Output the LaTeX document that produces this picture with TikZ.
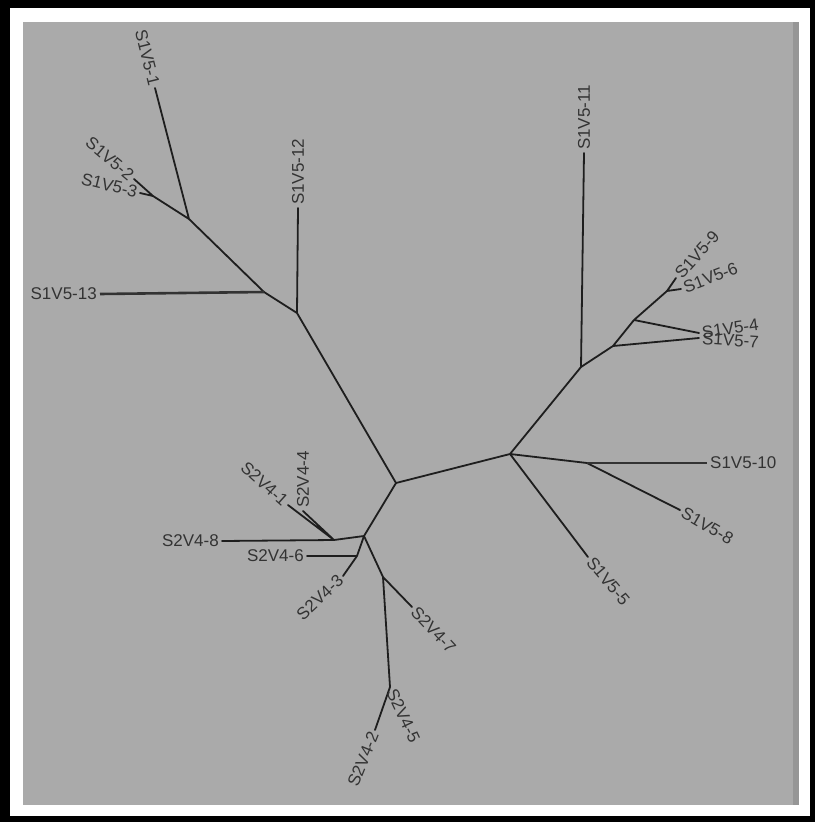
\documentclass[tikz,border=0pt]{standalone}
\usepackage{fontspec}
\setmainfont{Liberation Sans}
\definecolor{bggray}{HTML}{AAAAAA}
\definecolor{edgec}{HTML}{1E1E1E}
\definecolor{labc}{HTML}{333333}
\begin{document}
\begin{tikzpicture}[x=1pt,y=-1pt,
  edge/.style={draw=edgec,line width=1.8pt,line cap=round},
  thickedge/.style={draw=edgec!85!bggray,line width=2.6pt},
  lab/.style={text=labc,font=\fontsize{17}{17}\selectfont,inner sep=3pt},
  labR/.style={lab,anchor=west},
  labL/.style={lab,anchor=east}]
\useasboundingbox (0,0) rectangle (815,822);
\fill[black] (0,0) rectangle (815,822);
\fill[white] (10,8) rectangle (810,816);
\fill[bggray] (23,22) rectangle (798,805);
\fill[bggray!88!black] (793,22) rectangle (799,805);
% internal nodes
\coordinate (A) at (396,483);
\coordinate (B) at (297,313);
\coordinate (C) at (264,292);
\coordinate (D) at (189,219);
\coordinate (E) at (153,196);
\coordinate (F) at (510,454);
\coordinate (G) at (581,367);
\coordinate (H) at (613,346);
\coordinate (I) at (634,320);
\coordinate (J) at (667,291);
\coordinate (K) at (587,463);
\coordinate (L) at (364,536);
\coordinate (M) at (334,540);
\coordinate (P) at (357,556);
\coordinate (N) at (383,577);
\coordinate (O) at (390,687);
% tips
\coordinate (t1) at (155,88);
\coordinate (t2) at (134,179);
\coordinate (t3) at (140,193);
\coordinate (t13) at (100,294);
\coordinate (t12) at (298,208);
\coordinate (t11) at (584,153);
\coordinate (t9) at (676,278);
\coordinate (t6) at (681,289);
\coordinate (t4) at (699,333);
\coordinate (t7) at (699,338);
\coordinate (t10) at (707,463);
\coordinate (t8) at (680,510);
\coordinate (t5) at (588,557);
\coordinate (s1) at (288,505);
\coordinate (s4) at (303,511);
\coordinate (s8) at (222,541);
\coordinate (s6) at (307,556);
\coordinate (s3) at (343,576);
\coordinate (s7) at (412,607);
\coordinate (s2) at (375,730);
% edges
\draw[edge] (A) -- (B) (B) -- (C) (C) -- (D) (D) -- (E)
  (D) -- (t1) (E) -- (t2) (E) -- (t3) (B) -- (t12);
\draw[thickedge] (C) -- (t13);
\draw[edge] (A) -- (F) (F) -- (G) (G) -- (H) (H) -- (I) (I) -- (J)
  (G) -- (t11) (J) -- (t9) (J) -- (t6) (I) -- (t4) (H) -- (t7)
  (F) -- (K) (K) -- (t8) (F) -- (t5);
\draw[thickedge] (K) -- (t10);
\draw[edge] (A) -- (L) (L) -- (M) (L) -- (P) (L) -- (N)
  (M) -- (s1) (M) -- (s4) (M) -- (s8) (P) -- (s6) (P) -- (s3)
  (N) -- (s7) (N) -- (O) (O) -- (s2);
% labels
\node[labL,rotate=-76] (l1) at (t1) {S1V5-1};
\node[labL,rotate=-40] (l2) at (t2) {S1V5-2};
\node[labL,rotate=-14] (l3) at (t3) {S1V5-3};
\node[labL] (l13) at (t13) {S1V5-13};
\node[labR,rotate=90] (l12) at (t12) {S1V5-12};
\node[labR,rotate=90] (l11) at (t11) {S1V5-11};
\node[labR,rotate=48] (l9) at (t9) {S1V5-9};
\node[labR,rotate=21] (l6) at (t6) {S1V5-6};
\node[labR,rotate=8] (l4) at (t4) {S1V5-4};
\node[labR,rotate=-4] (l7) at (t7) {S1V5-7};
\node[labR] (l10) at (t10) {S1V5-10};
\node[labR,rotate=-30] (l8) at (t8) {S1V5-8};
\node[labR,rotate=-50] (l5) at (t5) {S1V5-5};
\node[labL,rotate=-42] (m1) at (s1) {S2V4-1};
\node[labR,rotate=90] (m4) at (s4) {S2V4-4};
\node[labL] (m8) at (s8) {S2V4-8};
\node[labL] (m6) at (s6) {S2V4-6};
\node[labL,rotate=43] (m3) at (s3) {S2V4-3};
\node[labR,rotate=-47] (m7) at (s7) {S2V4-7};
\node[labR,rotate=-65] (m5) at (O) {S2V4-5};
\node[labL,rotate=68] (m2) at (s2) {S2V4-2};
\end{tikzpicture}
\end{document}
